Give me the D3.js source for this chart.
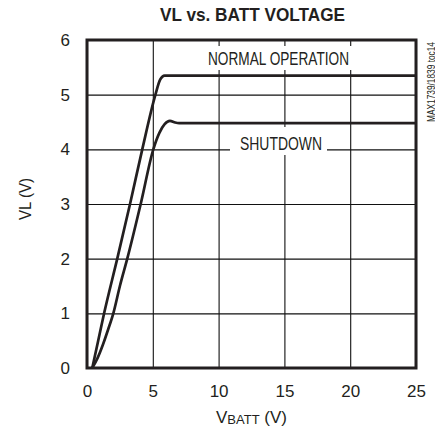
<!DOCTYPE html>
<html>
<head>
<meta charset="utf-8">
<script src="https://cdn.jsdelivr.net/npm/d3@7"></script>
<style>
  html, body { margin: 0; padding: 0; background: #fff; }
  svg text { font-family: "Liberation Sans", Arial, sans-serif; fill: #231f20; }
  .narrow { font-family: "Liberation Sans Narrow", "Liberation Sans", Arial, sans-serif; }
</style>
</head>
<body>
<div id="chart"></div>
<script>
// ticks
const xTicks = [0, 5, 10, 15, 20, 25];
const yTicks = [0, 1, 2, 3, 4, 5, 6];

// NORMAL OPERATION curve (VBATT, VL)
const normalVbatt = [0.4, 0.85, 1.3, 2.3, 3.27, 4.2, 5.2, 5.55, 5.9, 25];
const normalVl    = [0,   0.5,  1.0, 2.0, 3.0,  4.0, 5.0, 5.27, 5.35, 5.35];

// SHUTDOWN curve (VBATT, VL)
const shutdownVbatt = [0.4, 0.8,  1.2,  1.6, 2.0, 2.5, 3.06, 4.08, 5.04, 5.5, 5.9,  6.3,  6.7,  7.0,  25];
const shutdownVl    = [0,   0.18, 0.42, 0.7, 1.0, 1.5, 2.0,  3.0,  4.0,  4.3, 4.46, 4.52, 4.49, 4.48, 4.48];

const INK = '#231f20';
const MARGIN = { top: 40, right: 19, bottom: 67, left: 87 };
const WIDTH = 435, HEIGHT = 435;
const W = WIDTH - MARGIN.left - MARGIN.right;
const H = HEIGHT - MARGIN.top - MARGIN.bottom;

const svg = d3.select('#chart').append('svg')
  .attr('width', WIDTH)
  .attr('height', HEIGHT);

const g = svg.append('g').attr('transform', `translate(${MARGIN.left},${MARGIN.top})`);

const x = d3.scaleLinear().domain([0, 25]).range([0, W]);
const y = d3.scaleLinear().domain([0, 6]).range([H, 0]);

// Gridlines
g.append('g')
  .call(d3.axisBottom(x).tickValues(xTicks).tickSize(-H).tickFormat(''))
  .attr('transform', `translate(0,${H})`)
  .call(ax => ax.select('.domain').remove())
  .selectAll('line').attr('stroke', '#111').attr('stroke-width', 1.1);

g.append('g')
  .call(d3.axisLeft(y).tickValues(yTicks).tickSize(-W).tickFormat(''))
  .call(ax => ax.select('.domain').remove())
  .selectAll('line').attr('stroke', '#111').attr('stroke-width', 1.1);

// Tick labels
g.append('g')
  .attr('transform', `translate(0,${H})`)
  .call(d3.axisBottom(x).tickValues(xTicks).tickSize(0).tickPadding(17).tickFormat(d3.format('d')))
  .call(ax => ax.select('.domain').remove())
  .selectAll('text').attr('font-size', 17).attr('fill', INK)
  .attr('font-family', '"Liberation Sans", Arial, sans-serif');

g.append('g')
  .call(d3.axisLeft(y).tickValues(yTicks).tickSize(0).tickPadding(17).tickFormat(d3.format('d')))
  .call(ax => ax.select('.domain').remove())
  .selectAll('text').attr('font-size', 17).attr('fill', INK)
  .attr('font-family', '"Liberation Sans", Arial, sans-serif');

// Curve labels with white boxes over the grid
function boxLabel(text, cx, baseline, len, box) {
  g.append('rect')
    .attr('x', box[0] - MARGIN.left).attr('y', box[1] - MARGIN.top)
    .attr('width', box[2] - box[0]).attr('height', box[3] - box[1])
    .attr('fill', '#fff');
  g.append('text').attr('class', 'narrow')
    .attr('x', cx - MARGIN.left).attr('y', baseline - MARGIN.top)
    .attr('text-anchor', 'middle')
    .attr('font-size', 18)
    .attr('textLength', len).attr('lengthAdjust', 'spacingAndGlyphs')
    .text(text);
}
boxLabel('NORMAL OPERATION', 278.5, 64.5, 141, [204, 46, 356, 70]);
boxLabel('SHUTDOWN', 281, 149.5, 82, [230, 127, 327, 155]);

// Curves
const line = d3.line()
  .x(d => x(d[0]))
  .y(d => y(d[1]))
  .curve(d3.curveMonotoneX);

const normalPts = normalVbatt.map((v, i) => [v, normalVl[i]]);
const shutdownPts = shutdownVbatt.map((v, i) => [v, shutdownVl[i]]);

[normalPts, shutdownPts].forEach(pts => {
  g.append('path')
    .datum(pts)
    .attr('fill', 'none')
    .attr('stroke', INK)
    .attr('stroke-width', 2.7)
    .attr('stroke-linejoin', 'round')
    .attr('d', line);
});

// Frame
g.append('rect')
  .attr('width', W).attr('height', H)
  .attr('fill', 'none').attr('stroke', INK).attr('stroke-width', 3);

// Title
svg.append('text').attr('class', 'narrow')
  .attr('x', 252.5).attr('y', 21)
  .attr('text-anchor', 'middle')
  .attr('font-size', 19).attr('font-weight', 'bold')
  .attr('textLength', 185).attr('lengthAdjust', 'spacingAndGlyphs')
  .text('VL vs. BATT VOLTAGE');

// Y axis label
svg.append('text')
  .attr('transform', 'translate(31,199) rotate(-90)')
  .attr('text-anchor', 'middle')
  .attr('font-size', 16)
  .attr('textLength', 42).attr('lengthAdjust', 'spacingAndGlyphs')
  .text('VL (V)');

// X axis label
const xl = svg.append('text')
  .attr('x', 251.5).attr('y', 423)
  .attr('text-anchor', 'middle')
  .attr('font-size', 17);
xl.append('tspan').text('V');
xl.append('tspan').attr('font-size', 13).attr('dy', 1).text('BATT');
xl.append('tspan').attr('dy', -1).text(' (V)');

// Side note
svg.append('text')
  .attr('transform', 'translate(434.5,82) rotate(-90)')
  .attr('text-anchor', 'middle')
  .attr('font-size', 10)
  .attr('textLength', 80).attr('lengthAdjust', 'spacingAndGlyphs')
  .text('MAX1739/1839 toc14');
</script>
</body>
</html>
